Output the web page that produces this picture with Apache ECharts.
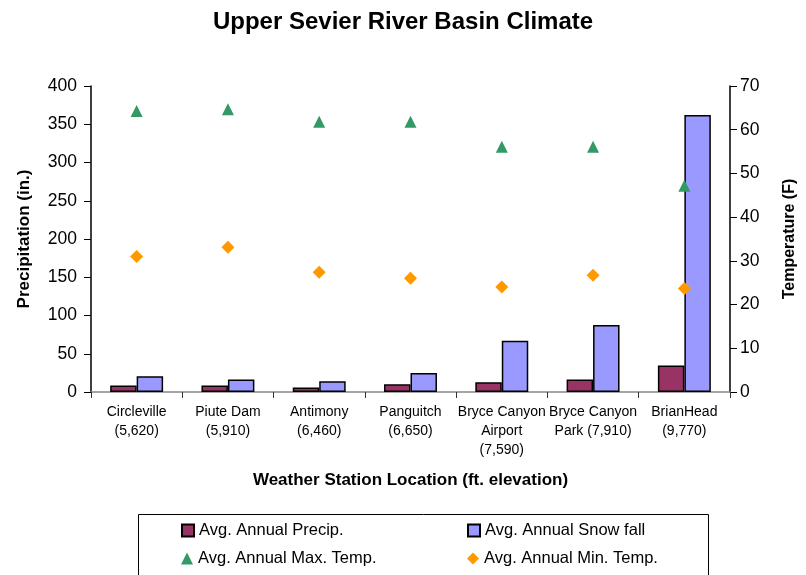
<!DOCTYPE html>
<html><head><meta charset="utf-8">
<script src="https://cdn.jsdelivr.net/npm/echarts@6/dist/echarts.min.js"></script>
<style>html,body{margin:0;padding:0;background:#fff}#c{width:806px;height:575px}</style>
</head><body><div id="c"></div>
<script>
const categories = ["Circleville\n(5,620)", "Piute Dam\n(5,910)", "Antimony\n(6,460)", "Panguitch\n(6,650)", "Bryce Canyon\nAirport\n(7,590)", "Bryce Canyon\nPark (7,910)", "BrianHead\n(9,770)"];
const precip = [8.4, 8.4, 5.8, 10, 12.7, 16.2, 34.5];
const snowfall = [20.5, 16.2, 14, 25, 67, 87.7, 362];
const maxTemp = [64.3, 64.7, 61.8, 61.8, 56.1, 56.1, 47.2];
const minTemp = [31.0, 33.1, 27.4, 26.0, 24.0, 26.7, 23.7];

const FONT = "Liberation Sans, Arial, sans-serif";
const chart = echarts.init(document.getElementById('c'));
const legendText = {fontFamily: FONT, fontSize: 16.5, color: '#000'};
function lg(name, left, top, icon) {
  return {data: [{name: name, icon: icon}], left: left, top: top, itemWidth: 12, itemHeight: 12, itemGap: 0, textStyle: legendText, padding: 0, selectedMode: false};
}
chart.setOption({
  animation: false,
  title: {text: 'Upper Sevier River Basin Climate', left: 'center', top: 5,
    textStyle: {fontFamily: FONT, fontSize: 24, fontWeight: 'bold', color: '#000'}},
  grid: {left: 91, right: 73, top: 86, bottom: 183},
  legend: [
    lg('Avg. Annual Precip.', 181, 522, 'rect'),
    lg('Avg. Annual Snow fall', 467, 522, 'rect'),
    lg('Avg. Annual Max. Temp.', 181, 550, 'triangle'),
    lg('Avg. Annual Min. Temp.', 467, 550, 'diamond')
  ],
  graphic: [{type: 'rect', shape: {x: 138.5, y: 514.5, width: 570, height: 70}, style: {fill: 'none', stroke: '#000', lineWidth: 1}}],
  xAxis: {type: 'category', data: categories,
    axisLine: {lineStyle: {color: '#888', width: 1.5}},
    axisTick: {show: true, length: 6, lineStyle: {color: '#333'}},
    axisLabel: {fontFamily: FONT, fontSize: 14, color: '#000', lineHeight: 19, margin: 11, interval: 0},
    name: 'Weather Station Location (ft. elevation)', nameLocation: 'middle', nameGap: 80,
    nameTextStyle: {fontFamily: FONT, fontSize: 17, fontWeight: 'bold', color: '#000'}},
  yAxis: [
    {type: 'value', min: 0, max: 400, interval: 50,
      axisLine: {show: true, lineStyle: {color: '#000', width: 1.5}},
      axisTick: {show: true, length: 7, lineStyle: {color: '#000'}},
      splitLine: {show: false},
      axisLabel: {fontFamily: FONT, fontSize: 17.5, color: '#000', margin: 14},
      name: 'Precipitation (in.)', nameLocation: 'middle', nameGap: 58, nameRotate: 90,
      nameTextStyle: {fontFamily: FONT, fontSize: 17, fontWeight: 'bold', color: '#000'}},
    {type: 'value', min: 0, max: 70, interval: 10, position: 'right',
      axisLine: {show: true, lineStyle: {color: '#000', width: 1.5}},
      axisTick: {show: true, length: 7, lineStyle: {color: '#000'}},
      splitLine: {show: false},
      axisLabel: {fontFamily: FONT, fontSize: 17.5, color: '#000', margin: 10},
      name: 'Temperature (F)', nameLocation: 'middle', nameGap: 52, nameRotate: 90,
      nameTextStyle: {fontFamily: FONT, fontSize: 16, fontWeight: 'bold', color: '#000'}}
  ],
  series: [
    {name: 'Avg. Annual Precip.', type: 'bar', data: precip, yAxisIndex: 0, barGap: '0%', barCategoryGap: '42%',
      itemStyle: {color: '#993366', borderColor: '#000', borderWidth: 1.5}},
    {name: 'Avg. Annual Snow fall', type: 'bar', data: snowfall, yAxisIndex: 0,
      itemStyle: {color: '#9999FF', borderColor: '#000', borderWidth: 1.5}},
    {name: 'Avg. Annual Max. Temp.', type: 'scatter', data: maxTemp, yAxisIndex: 1, symbol: 'triangle', symbolSize: 12,
      itemStyle: {color: '#339966', opacity: 1}},
    {name: 'Avg. Annual Min. Temp.', type: 'scatter', data: minTemp, yAxisIndex: 1, symbol: 'diamond', symbolSize: 13,
      itemStyle: {color: '#FF9900', opacity: 1}}
  ]
});
</script></body></html>
